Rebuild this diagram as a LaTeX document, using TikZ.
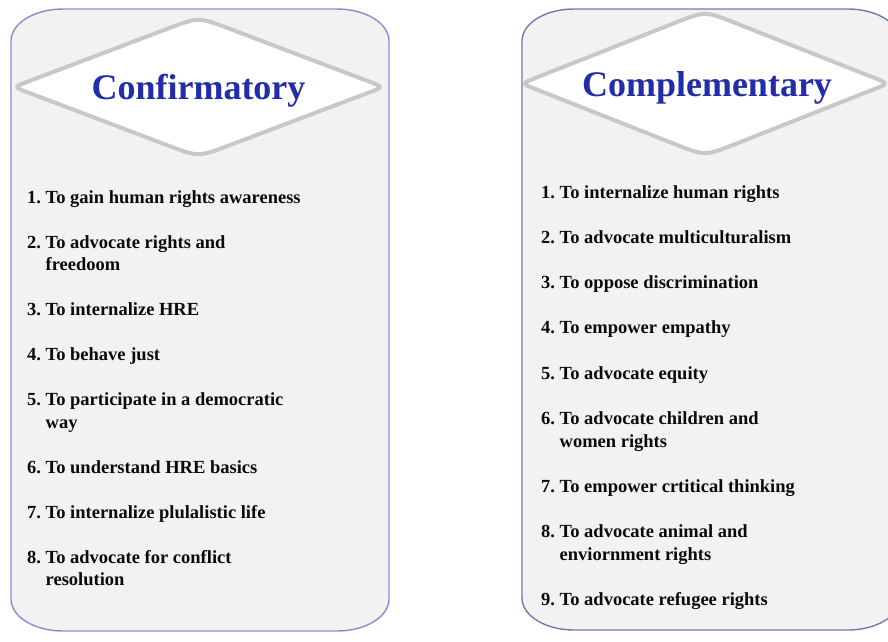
\documentclass[tikz,border=0pt]{standalone}
\usepackage{fontspec}
\setmainfont{Liberation Serif}
\usetikzlibrary{calc}
\definecolor{boxfill}{HTML}{F2F2F2}
\definecolor{leftline}{HTML}{8A8AD6}
\definecolor{rightline}{HTML}{6E7EA8}
\definecolor{diamline}{HTML}{C8C8C8}
\definecolor{titleblue}{RGB}{35,45,170}
\definecolor{itemtext}{HTML}{0A0A0A}
\newcommand{\itm}[2]{\makebox[18.5pt][l]{#1}\parbox[t]{300pt}{\raggedright #2}}
\begin{document}
\begin{tikzpicture}[x=1pt,y=-1pt,
  panel/.style={fill=boxfill,line width=1.4pt},
  diam/.style={fill=white,draw=diamline,line width=4pt,line join=round},
  title/.style={anchor=base,inner sep=0pt,text=titleblue,font=\fontsize{36}{40}\selectfont\bfseries},
  item/.style={anchor=base west,inner sep=0pt,text=itemtext,
    font=\fontsize{18.5}{22.5}\selectfont\bfseries}]
\useasboundingbox[fill=white] (0,0) rectangle (888,641);
\begin{scope}
\clip (0,0) rectangle (888,641);
% left panel
\draw[panel,draw=leftline] (63,9) -- (337,9) .. controls (365.7,9) and (389,23.3) .. (389,41)
  -- (389,599) .. controls (389,616.7) and (365.7,631) .. (337,631)
  -- (63,631) .. controls (34.3,631) and (11,616.7) .. (11,599)
  -- (11,41) .. controls (11,23.3) and (34.3,9) .. (63,9) -- cycle;
% right panel
\draw[panel,draw=rightline] (574,9) -- (848,9) .. controls (876.7,9) and (900,23.3) .. (900,41)
  -- (900,598) .. controls (900,615.7) and (876.7,630) .. (848,630)
  -- (574,630) .. controls (545.3,630) and (522,615.7) .. (522,598)
  -- (522,41) .. controls (522,23.3) and (545.3,9) .. (574,9) -- cycle;
% diamonds
\coordinate (L1) at (13.5,87);
\coordinate (T1) at (198.5,17);
\coordinate (R1) at (383.5,87);
\coordinate (B1) at (198.5,157);
\coordinate (L2) at (521.5,83.5);
\coordinate (T2) at (705,11);
\coordinate (R2) at (888.5,83.5);
\coordinate (B2) at (705,156);
\foreach \n in {1,2}{
\draw[diam] ($(L\n)!15pt!(T\n)$) -- ($(T\n)!32pt!(L\n)$) .. controls (T\n) and (T\n) .. ($(T\n)!32pt!(R\n)$)
  -- ($(R\n)!15pt!(T\n)$) .. controls (R\n) and (R\n) .. ($(R\n)!15pt!(B\n)$)
  -- ($(B\n)!32pt!(R\n)$) .. controls (B\n) and (B\n) .. ($(B\n)!32pt!(L\n)$)
  -- ($(L\n)!15pt!(B\n)$) .. controls (L\n) and (L\n) .. ($(L\n)!15pt!(T\n)$) -- cycle;
}
\end{scope}
% titles
\node[title] (t1) at (198.5,99) {Confirmatory};
\node[title] (t2) at (707,96) {Complementary};
% left items
\node[item] (a1) at (27,203) {\itm{1.}{To gain human rights awareness}};
\node[item] (a2) at (27,248) {\itm{2.}{To advocate rights and\\freedoom}};
\node[item] (a3) at (27,315.5) {\itm{3.}{To internalize HRE}};
\node[item] (a4) at (27,360.5) {\itm{4.}{To behave just}};
\node[item] (a5) at (27,405.5) {\itm{5.}{To participate in a democratic\\way}};
\node[item] (a6) at (27,473) {\itm{6.}{To understand HRE basics}};
\node[item] (a7) at (27,518) {\itm{7.}{To internalize plulalistic life}};
\node[item] (a8) at (27,563) {\itm{8.}{To advocate for conflict\\resolution}};
% right items
\node[item] (b1) at (541,198) {\itm{1.}{To internalize human rights}};
\node[item] (b2) at (541,243.3) {\itm{2.}{To advocate multiculturalism}};
\node[item] (b3) at (541,288.6) {\itm{3.}{To oppose discrimination}};
\node[item] (b4) at (541,333.9) {\itm{4.}{To empower empathy}};
\node[item] (b5) at (541,379.2) {\itm{5.}{To advocate equity}};
\node[item] (b6) at (541,424.5) {\itm{6.}{To advocate children and\\women rights}};
\node[item] (b7) at (541,492.3) {\itm{7.}{To empower crtitical thinking}};
\node[item] (b8) at (541,537.6) {\itm{8.}{To advocate animal and\\enviornment rights}};
\node[item] (b9) at (541,605.4) {\itm{9.}{To advocate refugee rights}};
\end{tikzpicture}
\end{document}
